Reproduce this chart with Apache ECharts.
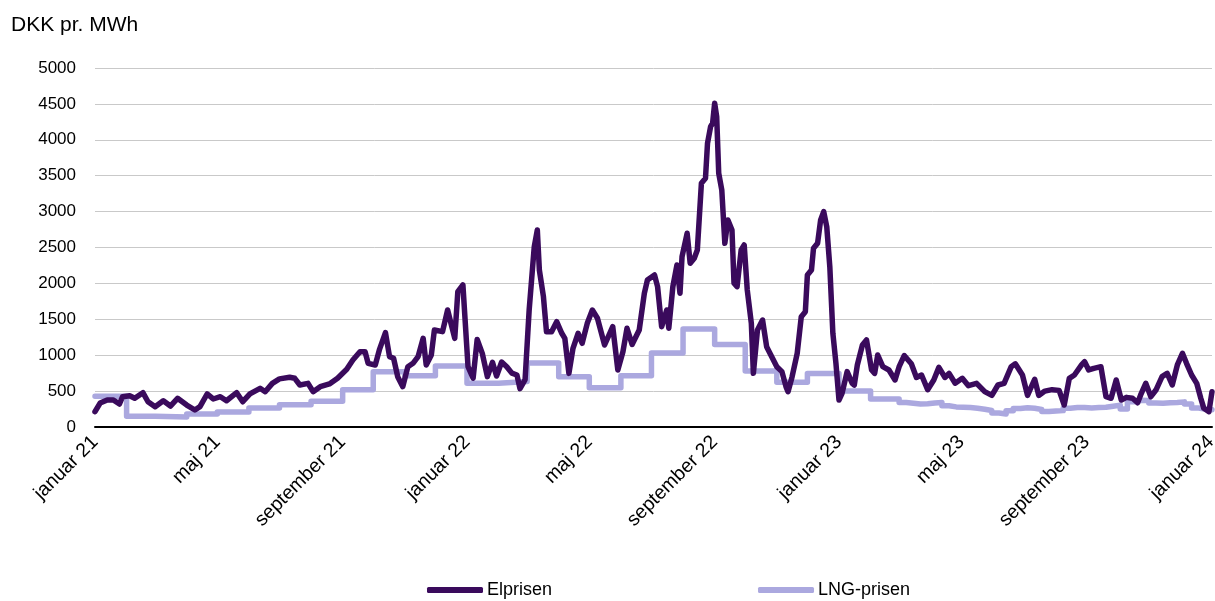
<!DOCTYPE html>
<html>
<head>
<meta charset="utf-8">
<script src="https://cdn.jsdelivr.net/npm/echarts@6/dist/echarts.min.js"></script>
<style>
html,body{margin:0;padding:0;background:#fff;}
#chart{width:1215px;height:601px;}
</style>
</head>
<body>
<div id="chart"></div>
<script>
// Elprisen: days since 1 Jan 2021 and price (DKK pr. MWh)
const elDay = [0,5,12,18,24,27,34,39,47,52,59,67,74,81,90,98,103,110,116,123,129,139,145,152,162,167,174,181,191,196,201,209,214,221,230,238,247,253,260,265,268,275,279,285,289,293,297,302,307,312,317,322,325,330,333,341,346,353,356,361,366,371,375,380,385,390,394,399,404,409,414,417,422,426,431,434,436,440,443,448,453,458,461,465,469,474,478,483,488,493,500,508,513,518,522,527,534,539,542,549,552,556,561,563,567,571,574,576,581,584,588,591,595,599,601,604,606,608,610,612,615,618,621,625,627,630,634,637,640,644,646,650,655,659,664,669,674,678,680,684,689,693,697,699,703,705,709,712,715,718,721,724,727,730,733,738,743,745,748,753,757,762,765,768,773,779,785,789,794,801,806,811,817,823,828,834,838,844,851,857,865,873,880,886,892,899,903,910,915,922,926,932,939,946,951,956,961,968,971,975,980,987,992,997,1002,1007,1012,1018,1023,1026,1031,1036,1041,1047,1052,1057,1062,1067,1071,1076,1081,1085,1088,1093,1096];
const elValue = [213,334,376,376,320,422,436,400,478,352,283,366,292,400,306,237,283,460,390,422,366,478,352,460,539,492,608,670,692,678,585,608,492,562,600,680,805,933,1049,1049,887,864,1073,1314,980,957,701,562,840,887,980,1235,864,1003,1351,1328,1630,1235,1884,1978,840,680,1220,1026,701,900,710,905,840,750,724,535,660,1630,2512,2744,2187,1815,1328,1328,1467,1305,1235,747,1096,1305,1166,1444,1630,1514,1142,1397,794,1049,1375,1150,1351,1862,2047,2117,1955,1397,1630,1375,1955,2257,1862,2372,2698,2280,2350,2465,3395,3464,3952,4183,4230,4509,4322,3534,3302,2559,2884,2744,2002,1955,2465,2535,1908,1444,747,1351,1490,1119,980,840,771,562,492,701,1026,1537,1606,2117,2187,2489,2559,2884,2999,2790,2233,1305,887,376,469,771,608,585,864,1142,1212,794,747,1003,840,794,655,840,995,880,690,724,520,655,830,690,747,610,678,575,608,492,440,585,608,840,880,724,440,665,440,500,520,510,306,678,724,864,910,794,817,840,422,400,655,376,413,400,338,446,608,422,515,701,747,585,864,1026,887,724,608,400,260,213,492];

// LNG-prisen: monthly levels until Feb 2023, weekly after
const lngMonth = ['2021-01','2021-02','2021-03','2021-04','2021-05','2021-06','2021-07','2021-08','2021-09','2021-10','2021-11','2021-12',
                  '2022-01','2022-02','2022-03','2022-04','2022-05','2022-06','2022-07','2022-08','2022-09','2022-10','2022-11','2022-12',
                  '2023-01','2023-02'];
const lngMonthValue = [430,150,140,180,210,265,310,360,520,770,715,850,
                       610,635,890,700,545,715,1030,1365,1150,780,625,745,
                       500,390];
const lngWeekStart = '2023-03-01';
const lngWeekValue = [340,330,320,325,335,340,295,280,275,272,262,248,230,195,180,225,258,268,260,245,215,222,228,262,272,270,265,270,274,290,305,250,350,372,370,335,330,338,340,350,320,265,246,240,237];

// x-axis tick labels
const tickDates = ['2021-01-01','2021-05-01','2021-09-01','2022-01-01','2022-05-01','2022-09-01','2023-01-01','2023-05-01','2023-09-01','2024-01-01'];
const tickLabels = ['januar 21','maj 21','september 21','januar 22','maj 22','september 22','januar 23','maj 23','september 23','januar 24'];

const yTicks = {min:0, max:5000, interval:500};

function dayOf(s){
  const p = s.split('-').map(Number);
  return Math.round((Date.UTC(p[0], p[1]-1, p[2]||1) - Date.UTC(2021,0,1)) / 86400000);
}
const xMax = 1096;

const elData = elDay.map((d,i)=>[d, elValue[i]]);
const lngData = lngMonth.map((m,i)=>[dayOf(m), lngMonthValue[i]]);
const wk0 = dayOf(lngWeekStart);
lngWeekValue.forEach((v,i)=>{ const d = wk0 + 7*i; if (d <= xMax) lngData.push([d, v]); });
lngData.push([xMax, lngWeekValue[lngWeekValue.length-1]]);

const tickDays = tickDates.map(dayOf);
const labelMap = {};
tickDays.forEach((d,i)=>labelMap[d]=tickLabels[i]);

const FONT = '"Liberation Sans", Arial, sans-serif';
const chart = echarts.init(document.getElementById('chart'), null, {renderer:'canvas'});
chart.setOption({
  animation:false,
  backgroundColor:'#ffffff',
  title:{text:'DKK pr. MWh', left:11, top:15, padding:0, textStyle:{fontFamily:FONT, fontSize:21, fontWeight:'normal', color:'#000'}},
  grid:{left:95, right:3, top:68, bottom:174, containLabel:false, outerBoundsMode:'none'},
  legend:{
    data:['Elprisen','LNG-prisen'], left:427, top:581, padding:0, itemGap:206, itemWidth:56, itemHeight:6,
    icon:'roundRect',
    textStyle:{fontFamily:FONT, fontSize:18, color:'#000', padding:[0,0,0,-1]}
  },
  xAxis:{
    type:'value', min:0, max:xMax,
    axisLine:{show:true, lineStyle:{color:'#000', width:2}},
    axisTick:{show:false},
    splitLine:{show:false},
    axisLabel:{
      customValues:tickDays, rotate:45, margin:12,
      fontFamily:FONT, fontSize:19.5, color:'#000',
      formatter:v=>labelMap[v]||''
    }
  },
  yAxis:{
    type:'value', min:yTicks.min, max:yTicks.max, interval:yTicks.interval,
    axisLine:{show:false}, axisTick:{show:false},
    splitLine:{lineStyle:{color:'#c9c9c9', width:1}},
    axisLabel:{margin:19, fontFamily:FONT, fontSize:17, color:'#000', formatter:v=>String(v)}
  },
  series:[
    {name:'LNG-prisen', type:'line', data:lngData, step:'end', showSymbol:false, symbol:'none',
     lineStyle:{color:'#aba8df', width:5.5, cap:'round', join:'round'}, itemStyle:{color:'#aba8df'}, z:2},
    {name:'Elprisen', type:'line', data:elData, showSymbol:false, symbol:'none',
     lineStyle:{color:'#3a0a5c', width:5.5, cap:'round', join:'round'}, itemStyle:{color:'#3a0a5c'}, z:3}
  ]
});
</script>
</body>
</html>
